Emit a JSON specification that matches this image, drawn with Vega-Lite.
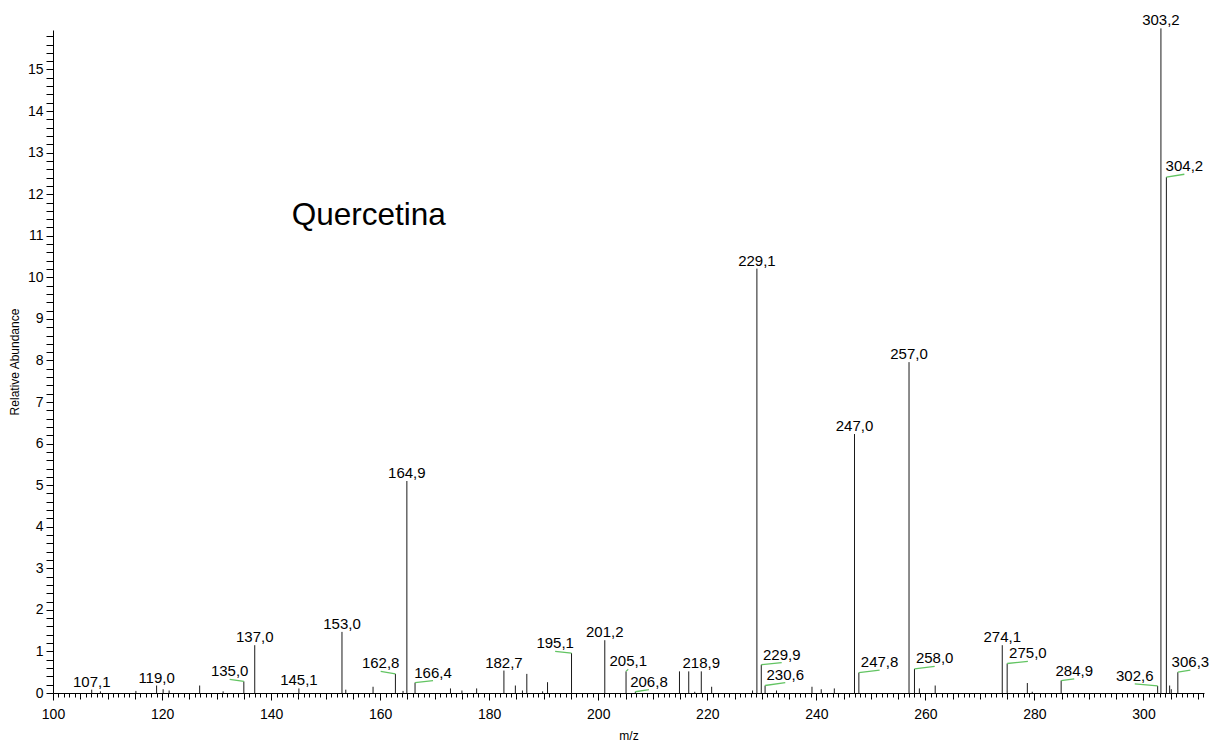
{
  "$schema": "https://vega.github.io/schema/vega-lite/v6.json",
  "autosize": {"type": "none"},
  "width": 1151,
  "height": 663,
  "padding": {"left": 53, "top": 30, "right": 8, "bottom": 51},
  "background": "white",
  "config": {"view": {"stroke": null}, "font": "Liberation Sans"},
  "resolve": {"axis": {"x": "independent", "y": "independent"}},
  "data": {"values": [
    {"mz":107.1,"ab":0.08,"label":"107,1","lx":107.1,"ly":0.08},
    {"mz":108.7,"ab":0.04},
    {"mz":115.2,"ab":0.05},
    {"mz":119.0,"ab":0.18,"label":"119,0","lx":119.0,"ly":0.18},
    {"mz":120.2,"ab":0.09},
    {"mz":121.3,"ab":0.06},
    {"mz":126.9,"ab":0.18},
    {"mz":131.2,"ab":0.04},
    {"mz":135.0,"ab":0.28,"label":"135,0","lx":132.4,"ly":0.33},
    {"mz":137.0,"ab":1.15,"label":"137,0","lx":137.0,"ly":1.15},
    {"mz":145.1,"ab":0.11,"label":"145,1","lx":145.1,"ly":0.11},
    {"mz":153.0,"ab":1.47,"label":"153,0","lx":153.0,"ly":1.47},
    {"mz":153.7,"ab":0.08},
    {"mz":158.7,"ab":0.15},
    {"mz":162.8,"ab":0.46,"label":"162,8","lx":160.1,"ly":0.52},
    {"mz":164.2,"ab":0.05},
    {"mz":164.9,"ab":5.10,"label":"164,9","lx":164.9,"ly":5.10},
    {"mz":166.4,"ab":0.25,"label":"166,4","lx":169.7,"ly":0.30},
    {"mz":172.9,"ab":0.11},
    {"mz":175.0,"ab":0.06},
    {"mz":177.7,"ab":0.11},
    {"mz":182.7,"ab":0.54,"label":"182,7","lx":182.7,"ly":0.54},
    {"mz":184.8,"ab":0.18},
    {"mz":186.1,"ab":0.06},
    {"mz":186.9,"ab":0.46},
    {"mz":189.8,"ab":0.04},
    {"mz":190.7,"ab":0.26},
    {"mz":195.1,"ab":0.96,"label":"195,1","lx":192.1,"ly":1.00},
    {"mz":201.2,"ab":1.27,"label":"201,2","lx":201.2,"ly":1.27},
    {"mz":205.1,"ab":0.52,"label":"205,1","lx":205.5,"ly":0.57},
    {"mz":206.8,"ab":0.03,"label":"206,8","lx":209.3,"ly":0.08},
    {"mz":214.9,"ab":0.52},
    {"mz":216.6,"ab":0.52},
    {"mz":217.7,"ab":0.03},
    {"mz":218.9,"ab":0.52,"label":"218,9","lx":218.9,"ly":0.52},
    {"mz":220.8,"ab":0.15},
    {"mz":228.3,"ab":0.06},
    {"mz":229.1,"ab":10.21,"label":"229,1","lx":229.1,"ly":10.21},
    {"mz":229.9,"ab":0.68,"label":"229,9","lx":233.65,"ly":0.73},
    {"mz":230.6,"ab":0.18,"label":"230,6","lx":234.3,"ly":0.25},
    {"mz":232.7,"ab":0.06},
    {"mz":239.2,"ab":0.15},
    {"mz":240.9,"ab":0.09},
    {"mz":243.3,"ab":0.11},
    {"mz":247.0,"ab":6.23,"label":"247,0","lx":247.0,"ly":6.23},
    {"mz":247.8,"ab":0.49,"label":"247,8","lx":251.6,"ly":0.55},
    {"mz":257.0,"ab":7.96,"label":"257,0","lx":257.0,"ly":7.96},
    {"mz":258.0,"ab":0.58,"label":"258,0","lx":261.7,"ly":0.64},
    {"mz":258.9,"ab":0.11},
    {"mz":261.8,"ab":0.18},
    {"mz":274.1,"ab":1.15,"label":"274,1","lx":274.1,"ly":1.15},
    {"mz":275.0,"ab":0.71,"label":"275,0","lx":278.8,"ly":0.76},
    {"mz":278.7,"ab":0.24},
    {"mz":279.6,"ab":0.03},
    {"mz":284.9,"ab":0.30,"label":"284,9","lx":287.3,"ly":0.34},
    {"mz":302.6,"ab":0.17,"label":"302,6","lx":298.4,"ly":0.22},
    {"mz":303.2,"ab":15.99,"label":"303,2","lx":303.2,"ly":15.99},
    {"mz":304.2,"ab":12.41,"label":"304,2","lx":307.5,"ly":12.48},
    {"mz":304.8,"ab":0.18},
    {"mz":305.1,"ab":0.09},
    {"mz":306.3,"ab":0.50,"label":"306,3","lx":308.6,"ly":0.55}
  ]},
  "layer": [
    {
      "mark": {"type": "rule", "color": "#1a1a1a", "strokeWidth": 1},
      "encoding": {
        "x": {"field": "mz", "type": "quantitative",
          "scale": {"domain": [100, 311.1], "nice": false, "zero": false},
          "axis": {
            "orient": "bottom",
            "title": "m/z", "titleFontSize": 12, "titleFontWeight": "normal", "titleColor": "black", "titlePadding": 9,
            "grid": false, "domainColor": "black", "tickColor": "black",
            "values": [100,101,102,103,104,105,106,107,108,109,110,111,112,113,114,115,116,117,118,119,120,121,122,123,124,125,126,127,128,129,130,131,132,133,134,135,136,137,138,139,140,141,142,143,144,145,146,147,148,149,150,151,152,153,154,155,156,157,158,159,160,161,162,163,164,165,166,167,168,169,170,171,172,173,174,175,176,177,178,179,180,181,182,183,184,185,186,187,188,189,190,191,192,193,194,195,196,197,198,199,200,201,202,203,204,205,206,207,208,209,210,211,212,213,214,215,216,217,218,219,220,221,222,223,224,225,226,227,228,229,230,231,232,233,234,235,236,237,238,239,240,241,242,243,244,245,246,247,248,249,250,251,252,253,254,255,256,257,258,259,260,261,262,263,264,265,266,267,268,269,270,271,272,273,274,275,276,277,278,279,280,281,282,283,284,285,286,287,288,289,290,291,292,293,294,295,296,297,298,299,300,301,302,303,304,305,306,307,308,309,310,311],
            "labelExpr": "datum.value % 20 === 0 ? datum.value : ''",
            "tickSize": {"condition": [{"test": "datum.value % 20 === 0", "value": 7}, {"test": "datum.value % 5 === 0", "value": 6}], "value": 4},
            "labelPadding": 7, "labelFontSize": 14, "labelColor": "black", "labelOverlap": false, "labelFlush": false, "labelBound": false
          }
        },
        "y": {"field": "ab", "type": "quantitative",
          "scale": {"domain": [0, 15.95], "nice": false},
          "axis": {
            "orient": "left",
            "title": "Relative Abundance", "titleFontSize": 12, "titleFontWeight": "normal", "titleColor": "black", "titlePadding": 6,
            "grid": false, "domainColor": "black", "tickColor": "black", "tickSize": 7,
            "values": [0,0.2,0.4,0.6,0.8,1,1.2,1.4,1.6,1.8,2,2.2,2.4,2.6,2.8,3,3.2,3.4,3.6,3.8,4,4.2,4.4,4.6,4.8,5,5.2,5.4,5.6,5.8,6,6.2,6.4,6.6,6.8,7,7.2,7.4,7.6,7.8,8,8.2,8.4,8.6,8.8,9,9.2,9.4,9.6,9.8,10,10.2,10.4,10.6,10.8,11,11.2,11.4,11.6,11.8,12,12.2,12.4,12.6,12.8,13,13.2,13.4,13.6,13.8,14,14.2,14.4,14.6,14.8,15,15.2,15.4,15.6,15.8],
            "labelExpr": "datum.value % 1 === 0 ? datum.value : ''",
            "labelPadding": 3, "labelFontSize": 14, "labelColor": "black", "labelOverlap": false, "labelFlush": false, "labelBound": false
          }
        },
        "y2": {"datum": 0}
      }
    },
    {
      "transform": [{"filter": "datum.label && datum.lx != datum.mz"}],
      "mark": {"type": "rule", "color": "#62c462", "strokeWidth": 1.3},
      "encoding": {
        "x": {"field": "mz", "type": "quantitative", "axis": null},
        "y": {"field": "ab", "type": "quantitative", "axis": null},
        "x2": {"field": "lx"},
        "y2": {"field": "ly"}
      }
    },
    {
      "transform": [{"filter": "datum.label"}],
      "mark": {"type": "text", "fontSize": 15, "color": "black", "align": "center", "baseline": "alphabetic", "dy": -3},
      "encoding": {
        "x": {"field": "lx", "type": "quantitative", "axis": null},
        "y": {"field": "ly", "type": "quantitative", "axis": null},
        "text": {"field": "label"}
      }
    },
    {
      "data": {"values": [{"name": "Quercetina"}]},
      "mark": {"type": "text", "fontSize": 31.5, "color": "black", "align": "center", "baseline": "alphabetic"},
      "encoding": {
        "x": {"datum": 157.9, "type": "quantitative", "axis": null},
        "y": {"datum": 11.26, "type": "quantitative", "axis": null},
        "text": {"field": "name"}
      }
    }
  ]
}
